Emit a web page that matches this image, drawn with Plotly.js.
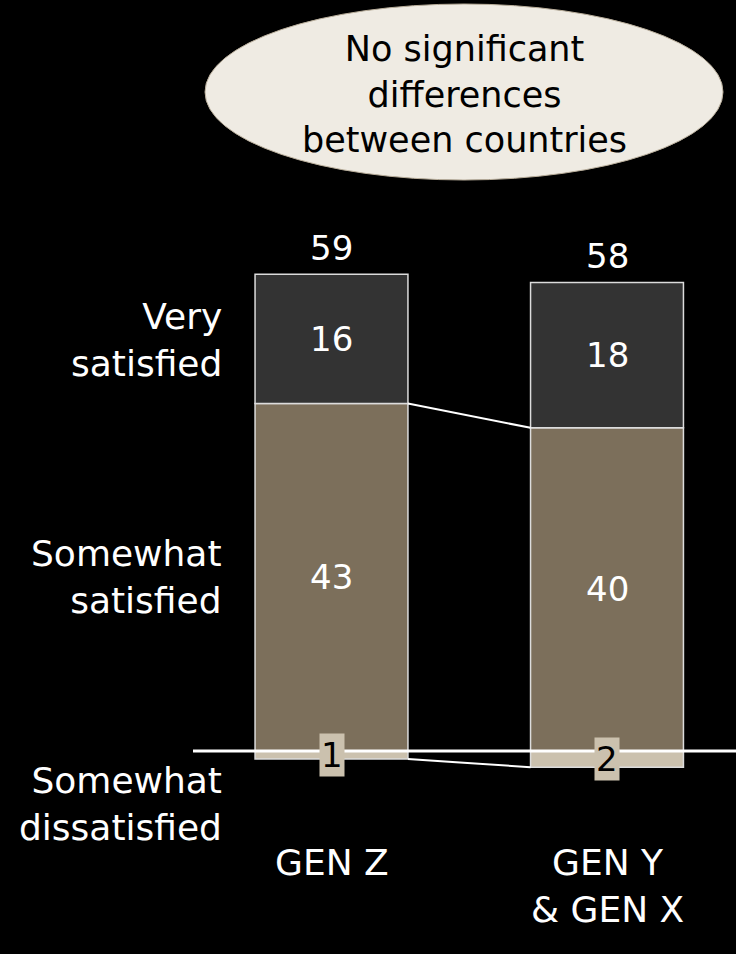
<!DOCTYPE html>
<html><head><meta charset="utf-8">
<script src="https://cdn.plot.ly/plotly-3.0.1.min.js"></script>
<style>html,body{margin:0;padding:0;background:#000;}#chart{width:736px;height:954px;}</style>
</head><body><div id="chart"></div>
<script>
// Data
const groups = ["GEN Z", "GEN Y<br>& GEN X"];
const verySatisfied = [16, 18];
const somewhatSatisfied = [43, 40];
const somewhatDissatisfied = [1, 2];
const totals = [59, 58];
const rowLabels = ["Very<br>satisfied", "Somewhat<br>satisfied", "Somewhat<br>dissatisfied"];
const note = "No significant<br>differences<br>between countries";

const FONT = "DejaVu Sans";
const xs = groups.map((g, i) => i);
const W = 0.555;
const edge = {color: "#dcdcdc", width: 1.5};

const traces = [
  {type: "bar", x: xs, y: somewhatSatisfied, width: W, base: 0,
   marker: {color: "#7c6f5b", line: edge}, hoverinfo: "skip"},
  {type: "bar", x: xs, y: verySatisfied, width: W, base: somewhatSatisfied,
   marker: {color: "#333333", line: edge}, hoverinfo: "skip"},
  {type: "bar", x: xs, y: somewhatDissatisfied.map(v => -v), width: W, base: 0,
   marker: {color: "#cbc1ae", line: edge}, hoverinfo: "skip"},
  // connectors
  {type: "scatter", mode: "lines", x: [xs[0] + W / 2, xs[1] - W / 2],
   y: somewhatSatisfied, line: {color: "#ffffff", width: 2}, hoverinfo: "skip"},
  {type: "scatter", mode: "lines", x: [xs[0] + W / 2, xs[1] - W / 2],
   y: somewhatDissatisfied.map(v => -v), line: {color: "#ffffff", width: 2}, hoverinfo: "skip"}
];

const numFont = {family: FONT, size: 34, color: "#ffffff"};
const ann = [];
xs.forEach((x, i) => {
  ann.push({x: x, y: totals[i] + 3.3, xref: "x", yref: "y", text: String(totals[i]),
    xanchor: "center", yanchor: "middle", showarrow: false, font: numFont});
  ann.push({x: x, y: somewhatSatisfied[i] + verySatisfied[i] / 2, xref: "x", yref: "y",
    xanchor: "center", yanchor: "middle",
    text: String(verySatisfied[i]), showarrow: false, font: numFont});
  ann.push({x: x, y: somewhatSatisfied[i] / 2, xref: "x", yref: "y",
    xanchor: "center", yanchor: "middle",
    text: String(somewhatSatisfied[i]), showarrow: false, font: numFont});
  ann.push({x: x, y: -somewhatDissatisfied[i] / 2, xref: "x", yref: "y",
    xanchor: "center", yanchor: "middle",
    text: String(somewhatDissatisfied[i]), showarrow: false, bgcolor: "#cbc1ae", borderpad: 1,
    font: {family: FONT, size: 34, color: "#000000"}});
  ann.push({x: x, y: 1 - 840 / 954, xref: "x", yref: "paper", xanchor: "center", yanchor: "top",
    text: groups[i], showarrow: false, font: {family: FONT, size: 36, color: "#ffffff"}});
});
const rowY = [340, 577, 804];
rowLabels.forEach((t, i) => {
  ann.push({x: 224 / 736, y: 1 - rowY[i] / 954, xref: "paper", yref: "paper",
    xanchor: "right", yanchor: "middle", align: "right", text: t, showarrow: false,
    font: {family: FONT, size: 36, color: "#ffffff"}});
});
ann.push({x: 464 / 736, y: 1 - 94 / 954, xref: "paper", yref: "paper", text: note,
  xanchor: "center", yanchor: "middle",
  showarrow: false, font: {family: FONT, size: 35, color: "#000000"}});

const layout = {
  width: 736, height: 954,
  margin: {l: 0, r: 0, t: 0, b: 0},
  paper_bgcolor: "#000000", plot_bgcolor: "#000000",
  showlegend: false, barmode: "overlay",
  xaxis: {range: [-331.5 / 275.5, (736 - 331.5) / 275.5], visible: false, fixedrange: true},
  yaxis: {range: [-25.12, 92.95], visible: false, fixedrange: true},
  shapes: [
    {type: "circle", xref: "paper", yref: "paper", x0: 205 / 736, x1: 723 / 736,
     y0: 1 - 180 / 954, y1: 1 - 4 / 954, fillcolor: "#efebe3",
     line: {color: "#b9ae9b", width: 1}, layer: "below"},
    {type: "line", xref: "paper", yref: "y", x0: 193 / 736, x1: 1, y0: 0, y1: 0,
     line: {color: "#ffffff", width: 3}, layer: "above"}
  ],
  annotations: ann
};
Plotly.newPlot("chart", traces, layout, {displayModeBar: false, staticPlot: true});
</script></body></html>
